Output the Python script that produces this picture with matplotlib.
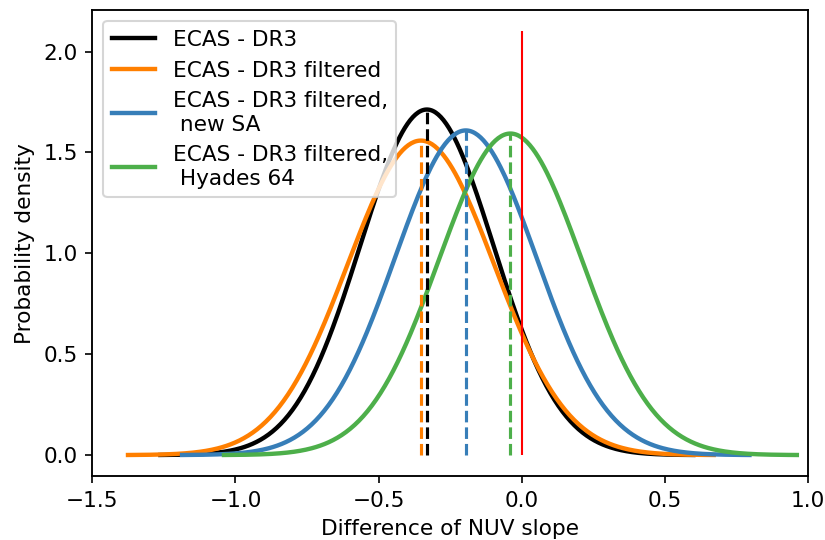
import numpy as np
import matplotlib
matplotlib.use("Agg")
import matplotlib.pyplot as plt

# Gaussian fits of the NUV slope difference
labels = ["ECAS - DR3", "ECAS - DR3 filtered", "ECAS - DR3 filtered,\n new SA",
          "ECAS - DR3 filtered,\n Hyades 64"]
means = [-0.331, -0.352, -0.195, -0.039]
sigmas = [0.2329, 0.2559, 0.2479, 0.2503]
colors = ["black", "#ff7f00", "#377eb8", "#4daf4a"]


def gauss(x, mu, sig):
    return np.exp(-0.5 * ((x - mu) / sig) ** 2) / (sig * np.sqrt(2 * np.pi))


plt.rcParams["font.size"] = 10.4
plt.rcParams["axes.linewidth"] = 0.9

fig, ax = plt.subplots(figsize=(5.5, 3.6), dpi=150)
fig.subplots_adjust(left=0.112, right=0.979, bottom=0.118, top=0.981)

for lab, mu, sig, c in zip(labels, means, sigmas, colors):
    x = np.linspace(mu - 4 * sig, mu + 4 * sig, 400)
    ax.plot(x, gauss(x, mu, sig), color=c, lw=2.1, label=lab)

for mu, sig, c in zip(means, sigmas, colors):
    ax.vlines(mu, 0, gauss(mu, mu, sig), colors=c, linestyles="--", lw=1.5)

ax.vlines(0, 0, 2.1, colors="red", lw=1)

ax.set_xlim(-1.5, 1.0)
ax.set_xlabel("Difference of NUV slope")
ax.set_ylabel("Probability density")
ax.legend(loc="upper left")

fig.savefig("out.png")
